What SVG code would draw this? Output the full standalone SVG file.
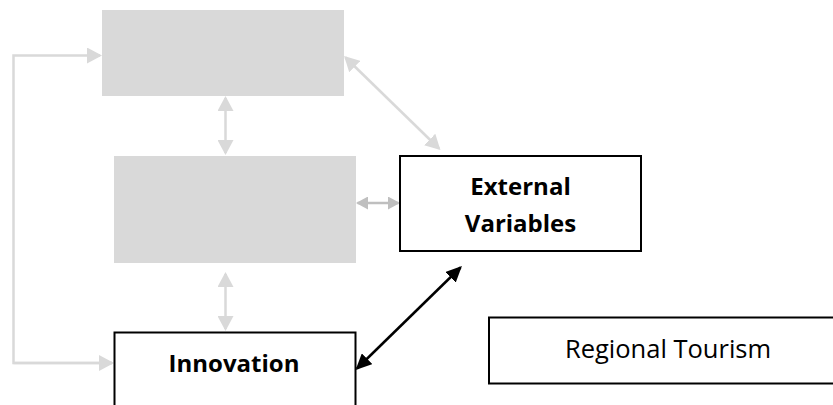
<svg xmlns="http://www.w3.org/2000/svg" width="833" height="405" viewBox="0 0 833 405">
  <style>
    .grey-box { fill: #d9d9d9; }
    .box { fill: #ffffff; stroke: #000000; stroke-width: 2; }
    .label { font-family: "Open Sans", "Noto Sans", "Liberation Sans", sans-serif; fill: #000000; text-anchor: middle; }
    .bold { font-weight: bold; font-size: 24px; }
    .regular { font-size: 25.5px; }
    .link-light { fill: none; stroke: #d9d9d9; stroke-width: 2.5; }
    .link-mid { fill: none; stroke: #bfbfbf; stroke-width: 2.5; }
    .link-dark { fill: none; stroke: #000000; stroke-width: 2.5; }
  </style>
  <defs>
    <marker id="head-light" viewBox="0 0 15 16" markerUnits="userSpaceOnUse" markerWidth="15" markerHeight="16" refX="13" refY="8" orient="auto-start-reverse">
      <path d="M0,0 L15,8 L0,16 z" fill="#d9d9d9"/>
    </marker>
    <marker id="head-mid" viewBox="0 0 12 13" markerUnits="userSpaceOnUse" markerWidth="12" markerHeight="13" refX="10.5" refY="6.5" orient="auto-start-reverse">
      <path d="M0,0 L12,6.5 L0,13 z" fill="#bfbfbf"/>
    </marker>
    <marker id="head-dark" viewBox="0 0 16 15" markerUnits="userSpaceOnUse" markerWidth="16" markerHeight="15" refX="14" refY="7.5" orient="auto-start-reverse">
      <path d="M0,0 L16,7.5 L0,15 z" fill="#000000"/>
    </marker>
  </defs>

  <!-- connectors -->
  <g id="connectors">
    <!-- feedback loop on the left -->
    <path class="link-light" d="M112,363 L13.5,363 L13.5,55.5 L100,55.5" marker-end="url(#head-light)"/>
    <path class="link-light" d="M13.5,363 L112,363" marker-end="url(#head-light)"/>
    <!-- vertical links between stacked boxes -->
    <path class="link-light" d="M225.5,98 L225.5,153" marker-start="url(#head-light)" marker-end="url(#head-light)"/>
    <path class="link-light" d="M225.5,274 L225.5,329" marker-start="url(#head-light)" marker-end="url(#head-light)"/>
    <!-- upper box to External Variables -->
    <path class="link-light" d="M345.5,57.5 L439,148.5" marker-start="url(#head-light)" marker-end="url(#head-light)"/>
    <!-- middle box to External Variables -->
    <path class="link-mid" d="M357.5,203 L398.5,203" marker-start="url(#head-mid)" marker-end="url(#head-mid)"/>
    <!-- Innovation to External Variables -->
    <path class="link-dark" d="M357,368.5 L460.5,267.5" marker-start="url(#head-dark)" marker-end="url(#head-dark)"/>
  </g>

  <!-- nodes -->
  <g id="node-upper">
    <rect class="grey-box" x="102" y="10" width="242" height="86"/>
  </g>
  <g id="node-middle">
    <rect class="grey-box" x="114" y="156" width="242" height="107"/>
  </g>
  <g id="node-external">
    <rect class="box" x="400" y="156" width="241" height="95"/>
    <text class="label bold" x="520.5" y="195">External</text>
    <text class="label bold" x="520.5" y="231.5">Variables</text>
  </g>
  <g id="node-innovation">
    <rect class="box" x="114.5" y="332.5" width="241" height="90"/>
    <text class="label bold" x="234" y="371.5">Innovation</text>
  </g>
  <g id="node-regional">
    <rect class="box" x="489" y="317.5" width="360" height="66"/>
    <text class="label regular" x="668" y="357.5">Regional Tourism</text>
  </g>
</svg>
